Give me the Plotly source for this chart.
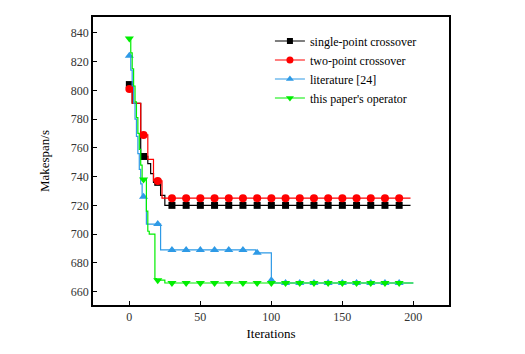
import plotly.graph_objects as go

# Change points (iteration, makespan) of each step curve
single_x = [0, 2, 8, 13, 15, 17, 22, 25, 198]
single_y = [804, 791, 754, 749, 742, 736, 727, 720, 720]

two_x = [0, 2, 8, 13, 17, 23, 198]
two_y = [801, 791, 769, 752, 737, 725, 725]

lit_x = [0, 1, 2, 3, 4, 5, 6, 7, 8, 9, 12, 22, 89, 100, 101, 200]
lit_y = [824, 814, 803, 791, 780, 768, 756, 745, 735, 726, 707, 689, 687, 668, 666, 666]

ours_x = [0, 1, 2, 3, 4, 5, 6, 7, 8, 9, 12, 13, 14, 18, 19, 25, 200]
ours_y = [836, 826, 815, 803, 792, 781, 770, 759, 748, 738, 716, 702, 700, 669, 668, 666, 666]

marker_iters = list(range(0, 200, 10))

names = ["single-point crossover", "two-point crossover", "literature [24]", "this paper's operator"]
colors = ["#000000", "#FF0000", "#2E9AE6", "#00EE00"]
symbols = ["square", "circle", "triangle-up", "triangle-down"]
sizes = [7, 8, 8, 8]

FONT = "Liberation Serif, Times New Roman, DejaVu Serif, serif"


def step_value(xs, ys, t):
    v = ys[0]
    for x, y in zip(xs, ys):
        if x <= t:
            v = y
    return v


series = [(single_x, single_y), (two_x, two_y), (lit_x, lit_y), (ours_x, ours_y)]

fig = go.Figure()
for (xs, ys), name, c, s, sz in zip(series, names, colors, symbols, sizes):
    fig.add_trace(go.Scatter(x=xs, y=ys, mode="lines", line=dict(color=c, width=1.2, shape="hv"),
                             showlegend=False, hoverinfo="skip"))
    mx = [t for t in marker_iters if t <= xs[-1]]
    my = [step_value(xs, ys, t) for t in mx]
    fig.add_trace(go.Scatter(x=mx, y=my, mode="markers", marker=dict(color=c, symbol=s, size=sz),
                             showlegend=False))
    fig.add_trace(go.Scatter(x=[None], y=[None], mode="lines+markers", name=name,
                             line=dict(color=c, width=1.2), marker=dict(color=c, symbol=s, size=sz - 1)))

axis_common = dict(showline=True, mirror=True, linecolor="black", linewidth=1.5,
                   ticks="inside", ticklen=4, tickcolor="black", tickwidth=1.2,
                   showgrid=False, zeroline=False, automargin=False,
                   tickfont=dict(family=FONT, size=12, color="#333"))

fig.update_layout(
    width=517, height=346,
    margin=dict(l=85, r=76, t=9, b=49),
    paper_bgcolor="white", plot_bgcolor="white",
    font=dict(family=FONT, color="black"),
    xaxis=dict(range=[-25.6, 225.1], tickvals=[0, 50, 100, 150, 200],
               title=dict(text="Iterations", font=dict(family=FONT, size=13), standoff=6), **axis_common),
    yaxis=dict(range=[650.7, 851], tickvals=list(range(660, 841, 20)),
               title=dict(text="Makespan/s", font=dict(family=FONT, size=13), standoff=18), **axis_common),
    legend=dict(x=0.497, y=0.967, xanchor="left", yanchor="top",
                font=dict(family=FONT, size=12, color="black"),
                bgcolor="rgba(0,0,0,0)", tracegroupgap=0, itemwidth=30),
)

fig.write_html("out.html")
